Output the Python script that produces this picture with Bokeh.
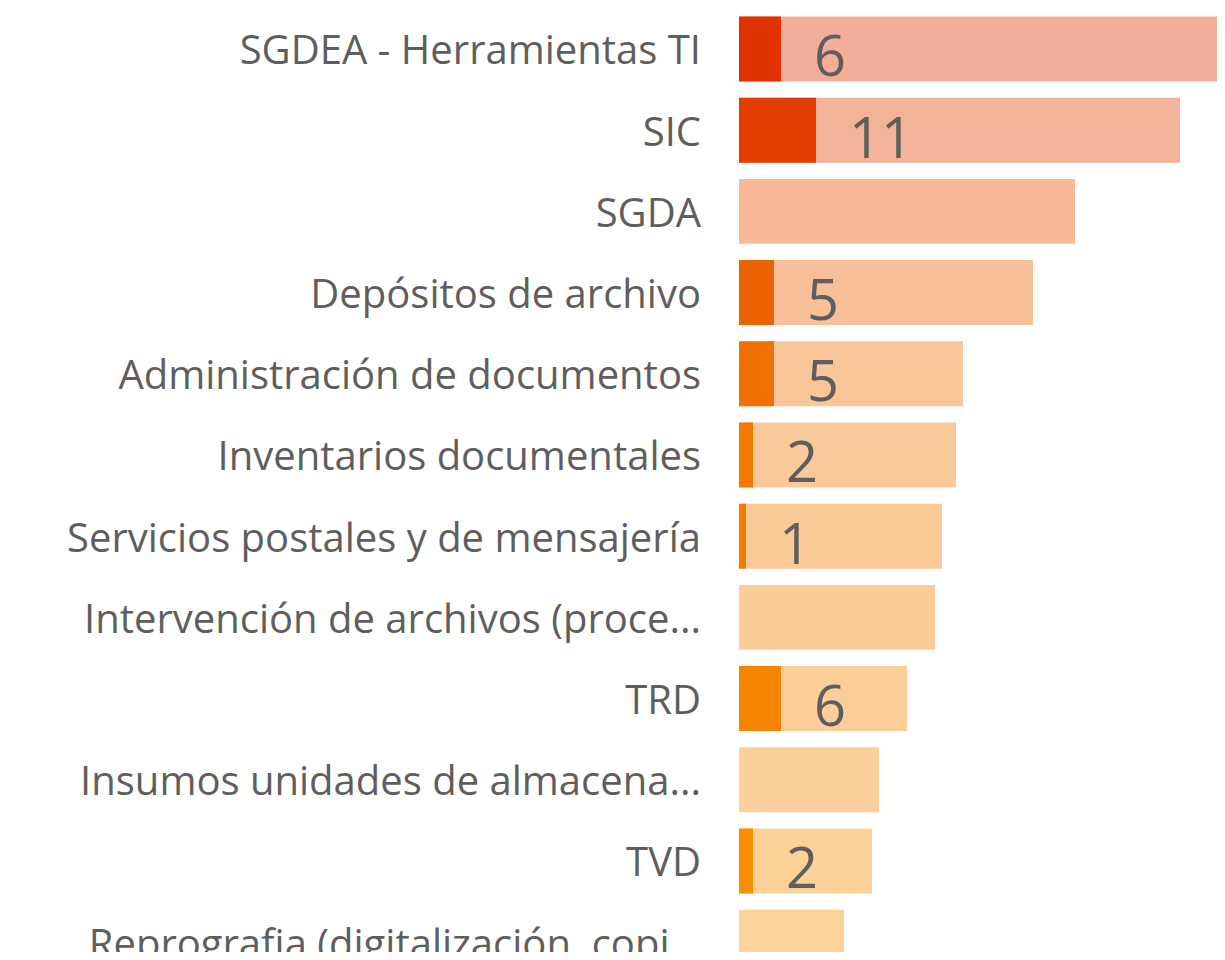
from bokeh.plotting import figure
from bokeh.models import ColumnDataSource, Range1d
from bokeh.core.properties import value
from bokeh.embed import file_html
from bokeh.resources import INLINE

categories = [
    "SGDEA - Herramientas TI",
    "SIC",
    "SGDA",
    "Depósitos de archivo",
    "Administración de documentos",
    "Inventarios documentales",
    "Servicios postales y de mensajería",
    "Intervención de archivos (proce...",
    "TRD",
    "Insumos unidades de almacena...",
    "TVD",
    "Reprografia (digitalización, copi...",
]
totals = [70, 63, 48, 42, 32, 31, 29, 28, 24, 20, 19, 15]
values = [6, 11, 0, 5, 5, 2, 1, 0, 6, 0, 2, 0]
colors = ["#E03300", "#E43E00", "#E85200", "#EC6200", "#F07000", "#F27800",
          "#F37C00", "#F48000", "#F58400", "#F68800", "#F88E00", "#F99200"]

rows = list(range(len(categories)))

bg = ColumnDataSource(dict(y=rows, right=totals, color=colors, cat=categories))
fg_idx = [i for i in rows if values[i] > 0]
fg = ColumnDataSource(dict(
    y=[rows[i] for i in fg_idx],
    right=[values[i] for i in fg_idx],
    color=[colors[i] for i in fg_idx],
    label=[str(values[i]) for i in fg_idx],
))

p = figure(width=1217, height=952, output_backend="svg", toolbar_location=None,
           x_range=Range1d(-105.5, 68.357), y_range=Range1d(11.127, -0.597),
           min_border=0, outline_line_color=None, background_fill_color="white",
           border_fill_color="white")
p.axis.visible = False
p.grid.visible = False

p.hbar(y="y", left=0, right="right", height=0.8, source=bg,
       fill_color="color", fill_alpha=0.4, line_color=None)
p.hbar(y="y", left=0, right="right", height=0.8, source=fg,
       fill_color="color", line_color=None)

p.text(x=0, y="y", text="cat", source=bg, x_offset=-38, y_offset=0,
       text_align="right", text_baseline="alphabetic",
       text_font=value("Open Sans"), text_font_size="40px", text_color="#605E5C")

p.text(x="right", y="y", text="label", source=fg, x_offset=33, y_offset=7,
       text_align="left", text_baseline="alphabetic",
       text_font=value("Open Sans"), text_font_size="56px", text_color="#605E5C")

open("out.html", "w").write(file_html(p, INLINE))
